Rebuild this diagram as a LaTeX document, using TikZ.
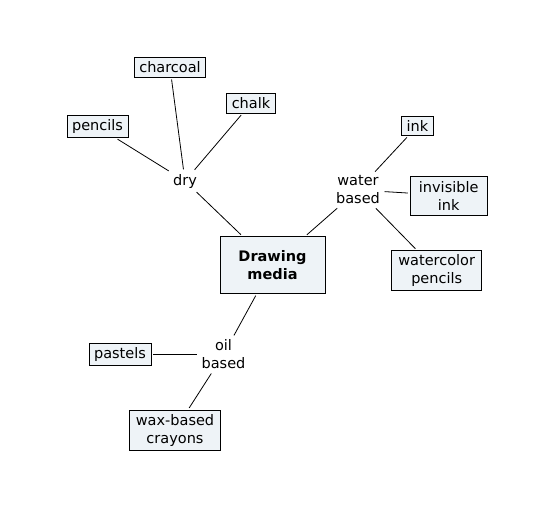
\documentclass[tikz,border=0pt]{standalone}
\usepackage{fontspec}
\setmainfont{DejaVu Sans}
\definecolor{boxfill}{RGB}{238,243,247}
\newcommand\mapfont{\fontsize{14.5}{18}\selectfont}
\begin{document}
\begin{tikzpicture}[x=1pt,y=-1pt,
  box/.style={draw=black, fill=boxfill, line width=0.8pt, inner xsep=5pt, inner ysep=4pt, align=center, font=\mapfont},
  lbl/.style={inner sep=2.5pt, align=center, font=\mapfont},
  link/.style={line width=0.8pt, shorten >=2pt, shorten <=2pt}]
\useasboundingbox[fill=white] (0,0) rectangle (550,507);
% center
\node[box, font=\mapfont\bfseries, minimum width=105, minimum height=57] (dm) at (272.5,265) {Drawing\\media};
% dry branch
\node[lbl] (dry) at (185,181) {dry};
\node[box] (charcoal) at (170,67.5) {charcoal};
\node[box] (chalk) at (251,103.5) {chalk};
\node[box] (pencils) at (97.5,126.7) {pencils};
% water branch
\node[lbl] (water) at (358,190) {water\\based};
\node[box] (ink) at (417.5,126) {ink};
\node[box, minimum width=77, minimum height=39] (invisible) at (448.7,195.5) {invisible\\ink};
\node[box, minimum width=90] (watercolor) at (436.7,270.5) {watercolor\\pencils};
% oil branch
\node[lbl] (oil) at (223.5,354.5) {oil\\based};
\node[box] (pastels) at (120,354.5) {pastels};
\node[box, minimum width=91] (wax) at (175,430) {wax-based\\crayons};
% connectors
\draw[link] (dry) -- (pencils);
\draw[link] (dry) -- (charcoal);
\draw[link] (dry) -- (chalk);
\draw[link] (dry) -- (dm);
\draw[link] (water) -- (ink);
\draw[link] (water) -- (invisible);
\draw[link] (water) -- (watercolor);
\draw[link] (water) -- (dm);
\draw[link] (dm) -- (oil);
\draw[link] (oil) -- (pastels);
\draw[link] (oil) -- (wax);
\end{tikzpicture}
\end{document}
